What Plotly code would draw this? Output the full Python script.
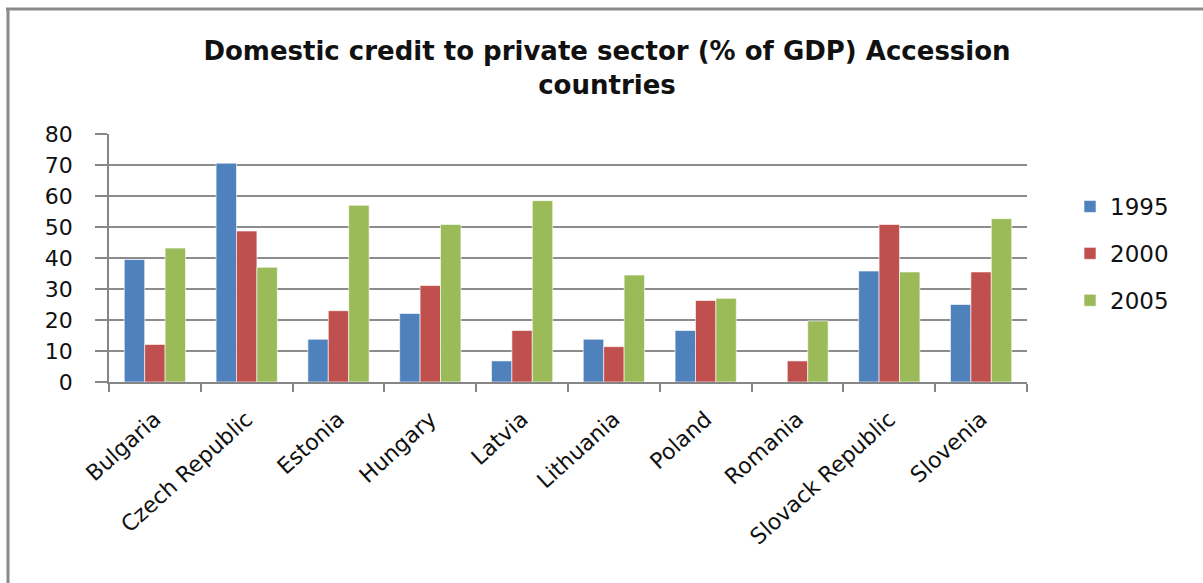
import plotly.graph_objects as go

# Domestic credit to private sector (% of GDP), accession countries
countries = ["Bulgaria", "Czech Republic", "Estonia", "Hungary", "Latvia",
             "Lithuania", "Poland", "Romania", "Slovack Republic", "Slovenia"]
years = ["1995", "2000", "2005"]
credit_1995 = [39.5, 70.6, 13.8, 22.1, 6.8, 13.8, 16.6, None, 35.8, 25.0]
credit_2000 = [12.1, 48.7, 23.0, 31.1, 16.6, 11.4, 26.3, 6.8, 50.8, 35.5]
credit_2005 = [43.2, 37.0, 57.0, 50.8, 58.5, 34.5, 27.0, 19.7, 35.5, 52.7]
y_ticks = [0, 10, 20, 30, 40, 50, 60, 70, 80]

colors = ["#4F81BD", "#C0504D", "#9BBB59"]
series = [credit_1995, credit_2000, credit_2005]
FONT = "DejaVu Sans"

fig = go.Figure()
for name, vals, col in zip(years, series, colors):
    fig.add_trace(go.Bar(
        x=countries, y=vals, name=name, legendgroup=name,
        marker=dict(color=col, line=dict(color="rgba(255,255,255,0.6)", width=1)),
    ))

W, H = 1203, 583
L, R, T, B = 109, 176, 134, 201
pw, ph = W - L - R, H - T - B

def px_x(x):
    return (x - L) / pw

def px_y(y):
    return (H - B - y) / ph

fig.update_layout(
    width=W, height=H,
    margin=dict(l=L, r=R, t=T, b=B),
    paper_bgcolor="white", plot_bgcolor="white",
    barmode="group", bargap=0.333, bargroupgap=0,
    font=dict(family=FONT, color="#111111"),
    title=dict(
        text="<b>Domestic credit to private sector (% of GDP) Accession<br>countries</b>",
        x=607 / W, xanchor="center", y=1 - 60 / H, yanchor="middle",
        font=dict(family=FONT, size=26, color="#111111"),
    ),
    legend=dict(
        x=px_x(1070), xanchor="left", y=px_y(185), yanchor="top",
        font=dict(family=FONT, size=23, color="#111111"),
        itemwidth=30, tracegroupgap=14, bgcolor="rgba(0,0,0,0)",
        traceorder="grouped",
    ),
    xaxis=dict(
        tickangle=-42, tickfont=dict(family=FONT, size=22, color="#111111"),
        showline=True, linecolor="#868686", linewidth=1.5,
        ticks="outside", ticklen=8, tickcolor="#868686", tickwidth=1.5,
        tickson="boundaries", showgrid=False, ticklabelstandoff=14,
    ),
    yaxis=dict(
        range=[0, 80], tickvals=y_ticks,
        tickfont=dict(family=FONT, size=22, color="#111111"),
        showline=True, linecolor="#868686", linewidth=1.5,
        ticks="outside", ticklen=12, tickcolor="#868686", tickwidth=1.5,
        showgrid=True, gridcolor="#8c8c8c", gridwidth=1.5, zeroline=False,
        ticklabelstandoff=18,
    ),
    shapes=[
        dict(type="line", xref="paper", yref="paper",
             x0=px_x(6), x1=px_x(1203), y0=px_y(9), y1=px_y(9),
             line=dict(color="#8a8a8a", width=3)),
        dict(type="line", xref="paper", yref="paper",
             x0=px_x(8), x1=px_x(8), y0=px_y(9), y1=px_y(583),
             line=dict(color="#8a8a8a", width=3)),
    ],
)

fig.write_html("out.html")
